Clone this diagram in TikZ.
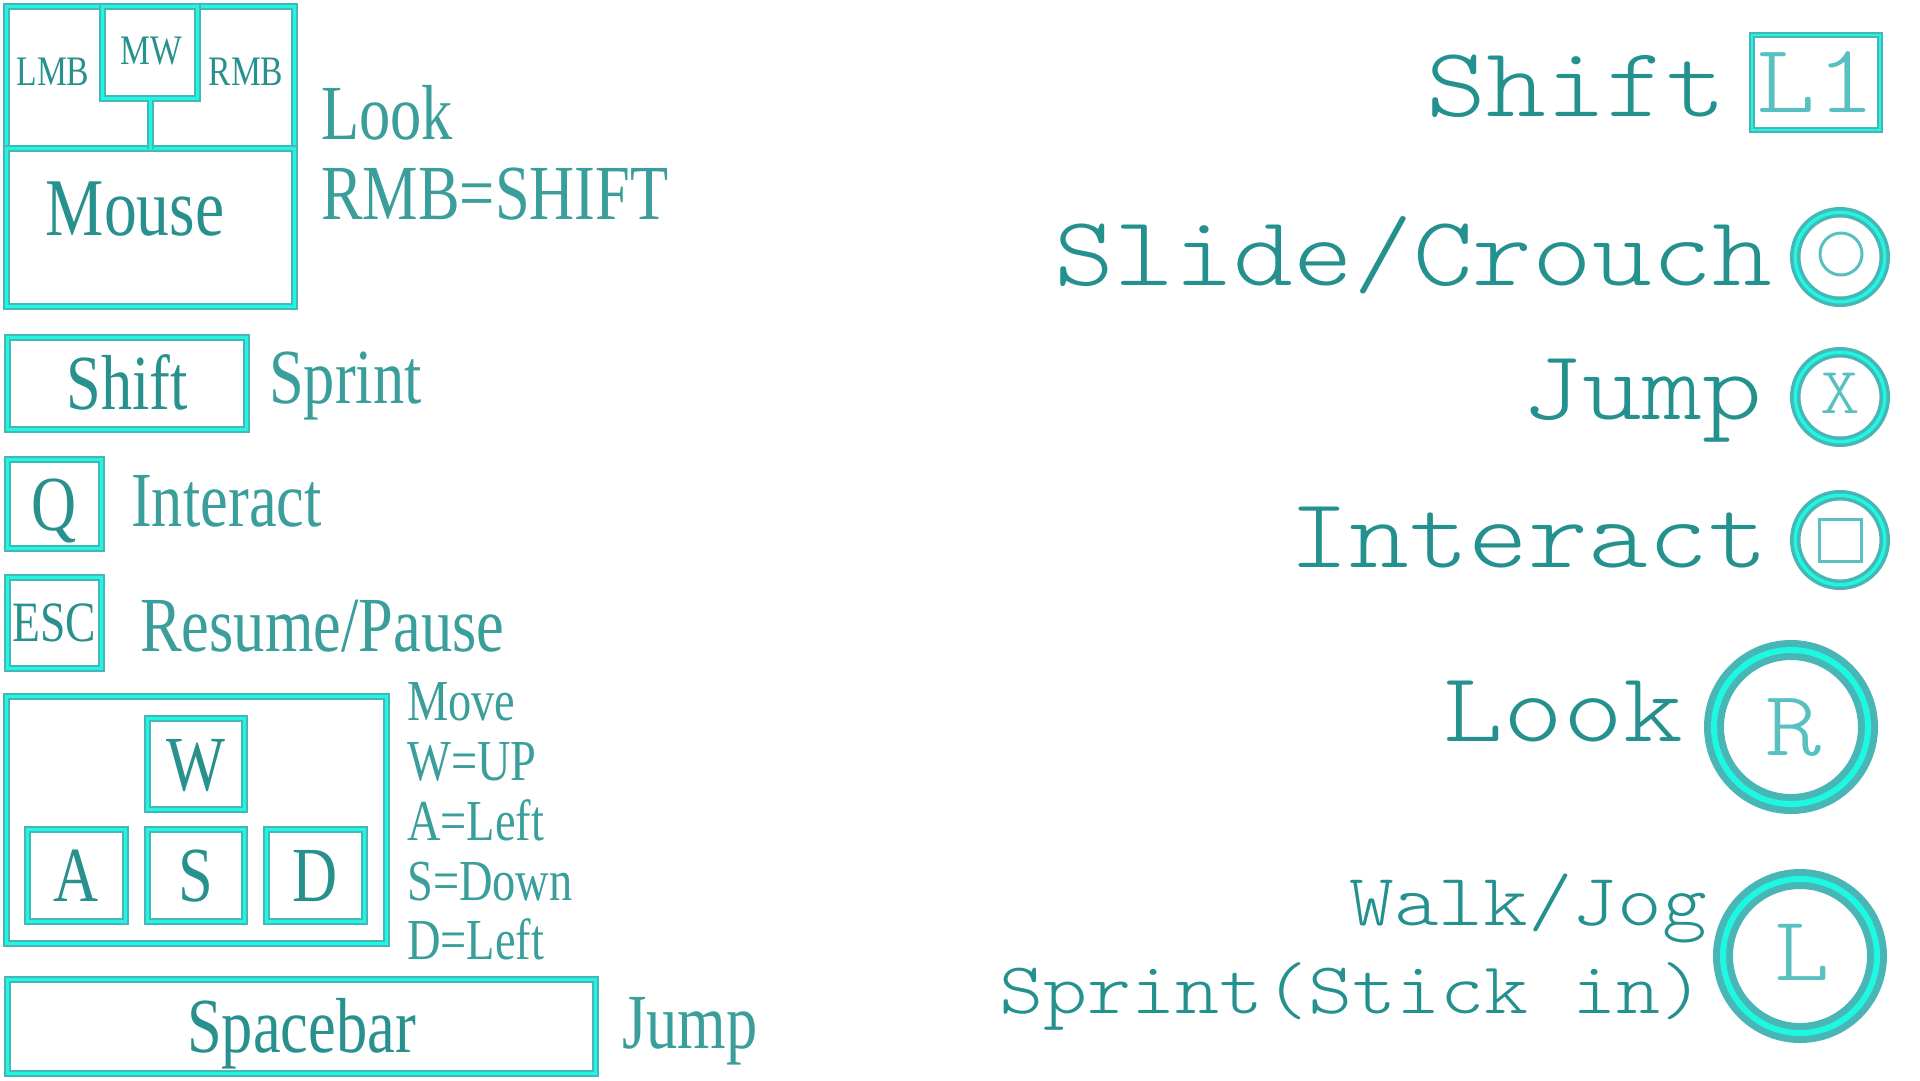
\documentclass[tikz,border=0pt]{standalone}
\usepackage{fontspec}
\usepackage{xcolor}
\usepackage{tikz}
\newfontfamily\keyfont[FakeStretch=0.8]{Liberation Serif}
\newfontfamily\padfont[FakeStretch=1.15]{lmmonolt10-regular.otf}

\definecolor{bandteal}{RGB}{72,182,182}
\definecolor{bandcyan}{RGB}{30,248,225}
\definecolor{labelteal}{RGB}{58,158,155}
\definecolor{keyteal}{RGB}{40,145,142}
\definecolor{padteal}{RGB}{36,145,143}
\definecolor{glyphteal}{RGB}{88,192,192}

\tikzset{
  band/.style={draw=bandteal,double=bandcyan,line width=2pt,double distance=3pt},
  keybox/.style={band,rectangle,inner sep=0pt,text=keyteal,font=\keyfont\fontsize{78}{80}\selectfont,text height=52pt,text depth=0pt},
  keytext/.style={inner sep=0pt,anchor=base,text=keyteal,font=\keyfont\fontsize{#1}{#1}\selectfont},
  lbl/.style={inner sep=0pt,anchor=base west,text=labelteal,font=\keyfont\fontsize{78}{80}\selectfont},
  smalllbl/.style={inner sep=0pt,anchor=base west,text=labelteal,font=\keyfont\fontsize{58}{60}\selectfont},
  padlbl/.style={inner sep=0pt,anchor=base east,text=padteal,font=\padfont\fontsize{#1}{#1}\selectfont},
  padlbl/.default=99,
  ringsmall/.style={circle,draw=bandteal,double=bandcyan,line width=3.5pt,double distance=3.5pt,minimum size=89.5pt,inner sep=0pt},
  ringbig/.style={circle,draw=bandteal,double=bandcyan,line width=7pt,double distance=6pt,minimum size=154pt,inner sep=0pt},
  btnglyph/.style={inner sep=0pt,anchor=base,text=glyphteal,font=\padfont\fontsize{#1}{#1}\selectfont},
  glyphline/.style={draw=glyphteal,line width=3pt,inner sep=0pt}
}

\begin{document}
\begin{tikzpicture}[x=1pt,y=-1pt]
\useasboundingbox (0,0) rectangle (1920,1080);

% keyboard and mouse
\node[keybox,minimum width=288pt,minimum height=141.5pt] (mousetop) at (150.5,77.25) {};
\node[keybox,minimum width=288pt,minimum height=158.5pt] (mouse) at (150.5,227.25) {};
\node[keybox,minimum width=95pt,minimum height=92pt] (mw) at (150,52.5) {};
\draw[band] (mw.south) -- (mw.south |- mousetop.south);
\node[keytext=42] (lmbtxt) at (53,85) {LMB};
\node[keytext=42] (mwtxt) at (151,64) {MW};
\node[keytext=42] (rmbtxt) at (246,85) {RMB};
\node[keytext=82] (mousetxt) at (135,235) {Mouse};
\node[lbl] (looklbl) at (321,139) {Look};
\node[lbl] (rmblbl) at (321,219) {RMB=SHIFT};

\node[keybox,minimum width=239pt,minimum height=92pt] (shiftkey) at (127,383.5) {Shift};
\node[lbl] (sprintlbl) at (269,403) {Sprint};
\node[keybox,minimum width=94pt,minimum height=89pt] (qkey) at (54.5,504) {Q};
\node[lbl] (qlbl) at (131,526) {Interact};
\node[keybox,minimum width=94pt,minimum height=91pt,font=\keyfont\fontsize{57}{58}\selectfont,text height=37pt] (esckey) at (54.5,623) {ESC};
\node[lbl] (esclbl) at (140,651) {Resume/Pause};

\node[keybox,minimum width=380pt,minimum height=247pt] (wasd) at (196.5,820) {};
\node[keybox,minimum width=97pt,minimum height=91pt] (wkey) at (196,764) {W};
\node[keybox,minimum width=98pt,minimum height=92pt] (akey) at (76.5,875.5) {A};
\node[keybox,minimum width=97pt,minimum height=92pt] (skey) at (196,875.5) {S};
\node[keybox,minimum width=98pt,minimum height=92pt] (dkey) at (315.5,875.5) {D};
\node[smalllbl] (movelbl) at (407,720) {Move};
\node[smalllbl] (wlbl) at (407,780) {W=UP};
\node[smalllbl] (albl) at (407,840) {A=Left};
\node[smalllbl] (slbl) at (407,900) {S=Down};
\node[smalllbl] (dlbl) at (407,959) {D=Left};

\node[keybox,minimum width=588pt,minimum height=94pt] (spacekey) at (301.5,1026.5) {Spacebar};
\node[lbl] (spacelbl) at (622,1048) {Jump};

% gamepad
\node[padlbl] (l1lbl) at (1726,116) {Shift};
\node[band,line width=1.5pt,double distance=2.5pt,minimum width=128pt,minimum height=95pt,inner sep=0pt,text=glyphteal,font=\padfont\fontsize{98}{98}\selectfont,text height=60pt,text depth=0pt] (l1) at (1816,82.5) {L1};

\node[padlbl] (olbl) at (1772,285) {Slide/Crouch};
\node[ringsmall] (obtn) at (1840,257) {};
\node[glyphline,circle,minimum size=42pt] (oglyph) at (1841,254) {};

\node[padlbl] (xlbl) at (1762,419) {Jump};
\node[ringsmall] (xbtn) at (1840,397) {};
\node[btnglyph=66] (xglyph) at (1840,413) {X};

\node[padlbl] (sqlbl) at (1768,567) {Interact};
\node[ringsmall] (sqbtn) at (1840,540) {};
\node[glyphline,rectangle,minimum size=42pt] (sqglyph) at (sqbtn) {};

\node[padlbl] (rlbl) at (1683,741) {Look};
\node[ringbig] (rbtn) at (1791,727) {};
\node[btnglyph=93] (rglyph) at (1794,755) {R};

\node[padlbl=74] (walklbl) at (1707,925) {Walk/Jog};
\node[padlbl=73] (stklbl) at (1705,1013) {Sprint(Stick in)};
\node[ringbig] (lbtn) at (1800,956) {};
\node[btnglyph=92] (lglyph) at (1802,980) {L};
\end{tikzpicture}
\end{document}
